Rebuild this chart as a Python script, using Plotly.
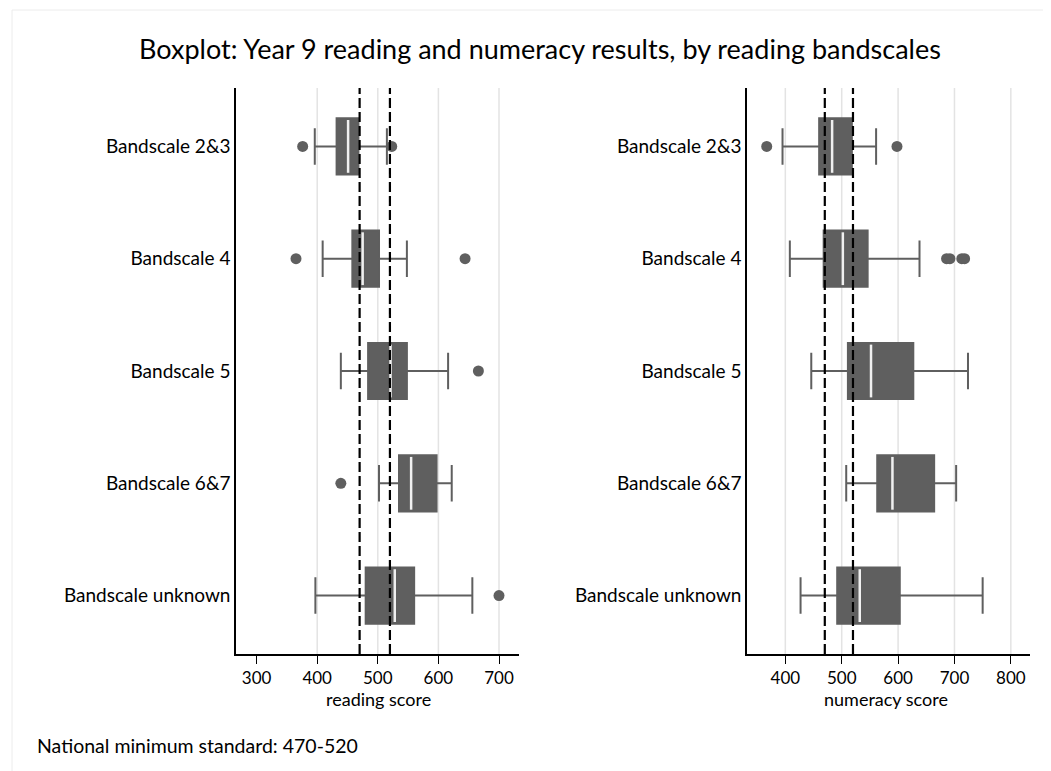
import plotly.graph_objects as go

categories = ["Bandscale 2&3", "Bandscale 4", "Bandscale 5", "Bandscale 6&7", "Bandscale unknown"]

# Reading score box statistics
read_low = [396, 409, 439, 502, 397]
read_q1 = [432, 458, 484, 535, 480]
read_med = [451, 475, 521, 555, 528]
read_q3 = [468, 502, 548, 597, 560]
read_high = [515, 548, 616, 622, 656]
read_outliers = [[376, 523], [365, 644], [666], [439], [700]]

# Numeracy score box statistics
num_low = [395, 408, 446, 508, 427]
num_q1 = [460, 468, 511, 563, 492]
num_med = [483, 502, 552, 590, 532]
num_q3 = [518, 546, 627, 664, 603]
num_high = [561, 638, 724, 703, 750]
num_outliers = [[367, 598], [686, 692, 713, 718], [], [], []]

nms_band = [470, 520]
read_ticks = [300, 400, 500, 600, 700]
num_ticks = [400, 500, 600, 700, 800]
read_grid = [400, 500, 600, 700]
num_grid = [400, 500, 600, 700, 800]

BOX = "#5f5f5f"
FONT = "Lato, 'Open Sans', sans-serif"
W, H = 1051, 771
OFF = 8  # page body margin


def px(x):
    return (x - OFF) / W


def py(y):
    return 1 - (y - OFF) / H


fig = go.Figure()
positions = list(range(len(categories)))


def add_panel(xa, ya, low, q1, med, q3, high, outliers):
    fig.add_trace(go.Box(
        y=positions, q1=q1, median=med, q3=q3,
        lowerfence=low, upperfence=high,
        orientation="h", width=0.5, whiskerwidth=0.65,
        fillcolor=BOX, line=dict(color=BOX, width=2),
        boxpoints=False, xaxis=xa, yaxis=ya, showlegend=False,
        hoverinfo="skip"))
    for i, m in enumerate(med):
        fig.add_trace(go.Scatter(
            x=[m, m], y=[i - 0.235, i + 0.235], mode="lines",
            line=dict(color="#f0f0f0", width=2.5),
            xaxis=xa, yaxis=ya, showlegend=False, hoverinfo="skip"))
    ox, oy = [], []
    for i, outs in enumerate(outliers):
        for v in outs:
            ox.append(v)
            oy.append(i)
    fig.add_trace(go.Scatter(
        x=ox, y=oy, mode="markers",
        marker=dict(color=BOX, size=11),
        xaxis=xa, yaxis=ya, showlegend=False, hoverinfo="skip"))


add_panel("x", "y", read_low, read_q1, read_med, read_q3, read_high, read_outliers)
add_panel("x2", "y2", num_low, num_q1, num_med, num_q3, num_high, num_outliers)

shapes = []
for xr, yr, grid in [("x", "y", read_grid), ("x2", "y2", num_grid)]:
    for g in grid:
        shapes.append(dict(type="line", xref=xr, yref=yr + " domain", x0=g, x1=g, y0=0, y1=1,
                           line=dict(color="#e3e3e3", width=1.5), layer="below"))
    for v in nms_band:
        shapes.append(dict(type="line", xref=xr, yref=yr + " domain", x0=v, x1=v, y0=0, y1=1,
                           line=dict(color="black", width=2.2, dash="10px,4px"), layer="above"))
# outer frame
shapes.append(dict(type="rect", xref="paper", yref="paper", x0=px(12), x1=1.2, y0=-0.2, y1=py(10),
                   line=dict(color="#ececec", width=1)))

yaxis_common = dict(range=[4.52, -0.52], tickvals=positions, ticktext=categories,
                    showline=True, linecolor="black", linewidth=1.5, ticks="",
                    showgrid=False, zeroline=False, tickfont=dict(size=19, color="black", family=FONT))
xaxis_common = dict(showline=True, linecolor="black", linewidth=1.5, ticks="outside", ticklen=8,
                    tickcolor="black", showgrid=False, zeroline=False,
                    tickfont=dict(size=17, color="black", family=FONT))

fig.update_layout(
    width=W, height=H,
    margin=dict(l=0, r=0, t=0, b=0),
    paper_bgcolor="white", plot_bgcolor="white",
    font=dict(family=FONT, color="black"),
    xaxis=dict(domain=[px(236), px(519)], range=[266, 733], tickvals=read_ticks,
               anchor="y", **xaxis_common),
    yaxis=dict(domain=[py(654), py(88)], anchor="x", **yaxis_common),
    xaxis2=dict(domain=[px(747), px(1030)], range=[332, 834], tickvals=num_ticks,
                anchor="y2", **xaxis_common),
    yaxis2=dict(domain=[py(654), py(88)], anchor="x2", **yaxis_common),
    shapes=shapes,
    annotations=[
        dict(text="Boxplot: Year 9 reading and numeracy results, by reading bandscales",
             x=px(540), y=py(48), xref="paper", yref="paper", showarrow=False,
             font=dict(size=27, family=FONT, color="black"), xanchor="center", yanchor="middle"),
        dict(text="reading score", x=px(378), y=py(699), xref="paper", yref="paper",
             showarrow=False, font=dict(size=18, family=FONT), xanchor="center", yanchor="middle"),
        dict(text="numeracy score", x=px(886), y=py(699), xref="paper", yref="paper",
             showarrow=False, font=dict(size=18, family=FONT), xanchor="center", yanchor="middle"),
        dict(text="National minimum standard: 470-520", x=px(35), y=py(745),
             xref="paper", yref="paper", showarrow=False, font=dict(size=19.5, family=FONT),
             xanchor="left", yanchor="middle"),
    ],
)

fig.write_html("out.html")
